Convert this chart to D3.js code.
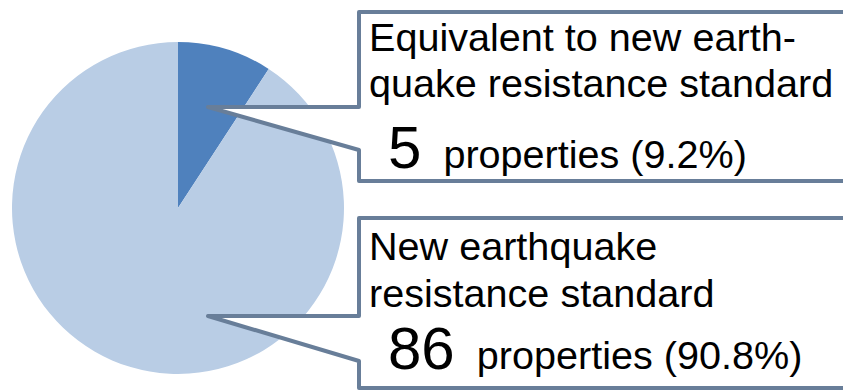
<!DOCTYPE html>
<html>
<head>
<meta charset="utf-8">
<script src="https://cdn.jsdelivr.net/npm/d3@7"></script>
<style>
  html, body { margin: 0; padding: 0; background: #ffffff; }
  svg { display: block; }
  text { font-family: "Liberation Sans", Arial, sans-serif; fill: #000000; }
</style>
</head>
<body>
<svg id="chart" width="843" height="391"></svg>
<script>
// Seismic standard breakdown
const categories = [
  "Equivalent to new earth-quake resistance standard",
  "New earthquake resistance standard"
];
const labelLines = [
  ["Equivalent to new earth-", "quake resistance standard"],
  ["New earthquake", "resistance standard"]
];
const counts = [5, 86];
const shares = [9.2, 90.8];
const colors = ["#4f81bd", "#b9cde5"];

const svg = d3.select("#chart");

const cx = 178, cy = 208, R = 166;

const pie = d3.pie().sort(null).value(d => d)(shares);
const arc = d3.arc().innerRadius(0).outerRadius(R);

const g = svg.append("g").attr("transform", `translate(${cx},${cy})`);
g.selectAll("path.slice")
  .data(pie)
  .join("path")
  .attr("class", "slice")
  .attr("d", arc)
  .attr("fill", (d, i) => colors[i]);

// Callout boxes with a wedge-shaped pointer into each slice
const boxes = [
  { top: 12, bottom: 181, tip: [208, 107], gapTop: 107, gapBottom: 150 },
  { top: 218, bottom: 388, tip: [208, 316], gapTop: 316, gapBottom: 361 }
];
const boxLeft = 359, boxRight = 860;
const stroke = "#687e99";

boxes.forEach((b, i) => {
  const p = d3.path();
  p.moveTo(boxLeft, b.top);
  p.lineTo(boxRight, b.top);
  p.lineTo(boxRight, b.bottom);
  p.lineTo(boxLeft, b.bottom);
  p.lineTo(boxLeft, b.gapBottom);
  p.lineTo(b.tip[0], b.tip[1]);
  p.lineTo(boxLeft, b.gapTop);
  p.closePath();
  svg.append("path")
    .attr("d", p.toString())
    .attr("fill", "#ffffff")
    .attr("stroke", stroke)
    .attr("stroke-width", 4)
    .attr("stroke-linejoin", "round");
});

// Label text
const textX = 369;
const lineBase = [[51, 97, 168], [260, 307, 369]];
labelLines.forEach((lines, i) => {
  lines.forEach((ln, j) => {
    svg.append("text")
      .attr("x", textX)
      .attr("y", lineBase[i][j])
      .attr("font-size", 39.6)
      .text(ln);
  });
  const t = svg.append("text")
    .attr("x", 388)
    .attr("y", lineBase[i][2]);
  t.append("tspan").attr("font-size", 60).text(counts[i]);
  t.append("tspan").attr("font-size", 39.6).attr("dx", 22)
    .text(`properties (${d3.format(".1f")(shares[i])}%)`);
});
</script>
</body>
</html>
